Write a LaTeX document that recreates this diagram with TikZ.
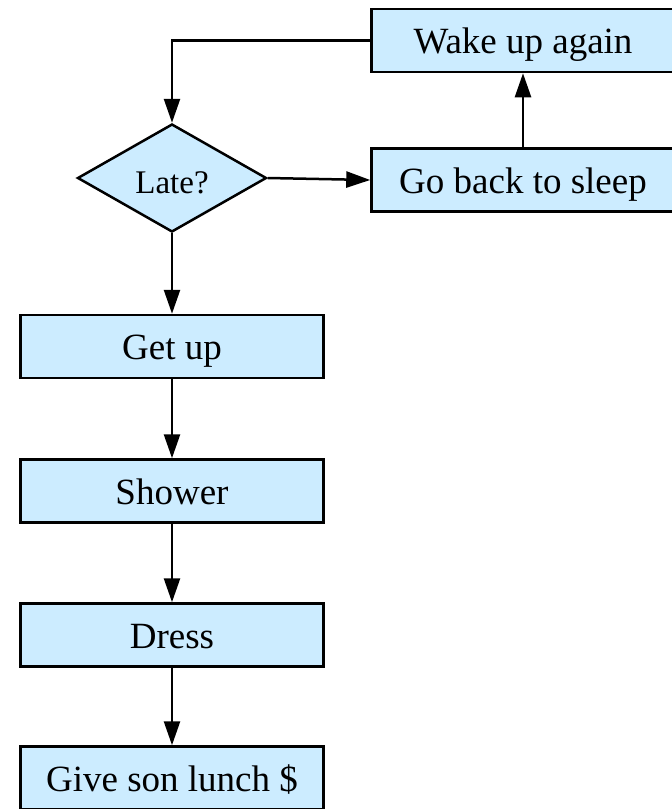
\documentclass[tikz,border=0pt]{standalone}
\usepackage{fontspec}
\setmainfont{Liberation Serif}
\usetikzlibrary{shapes.geometric,arrows.meta}
\definecolor{boxfill}{RGB}{204,236,255}
\begin{document}
\begin{tikzpicture}[x=1pt,y=-1pt,
  every node/.style={font=\fontsize{37}{44}\selectfont},
  stepbox/.style={draw=black,fill=boxfill,line width=2.5pt,rectangle,
    minimum width=303pt,minimum height=63pt,inner sep=0pt,
    text height=30pt,text depth=4pt},
  decision/.style={draw=black,fill=boxfill,line width=2.5pt,diamond,
    minimum width=189pt,minimum height=108pt,inner sep=0pt,
    text height=32pt,text depth=2pt,
    font=\fontsize{33}{40}\selectfont},
  flow/.style={line width=2.5pt,-{Triangle[length=24pt,width=16pt]}}]
\useasboundingbox (0,0) rectangle (672,809);

\node[stepbox] (wake)   at (523,40.5)  {Wake up again};
\node[stepbox] (sleep)  at (523,180)   {Go back to sleep};
\node[decision] (late)  at (172,178)   {Late?};
\node[stepbox] (getup)  at (172,346.5) {Get up};
\node[stepbox] (shower) at (172,491)   {Shower};
\node[stepbox] (dress)  at (172,635)   {Dress};
\node[stepbox] (lunch)  at (172,778)   {Give son lunch \$};

\draw[flow] (wake.west) -| (late.north);
\draw[flow] (late.east) -- (sleep.west);
\draw[flow] (sleep.north) -- (wake.south);
\draw[flow] (late.south) -- (getup.north);
\draw[flow] (getup.south) -- (shower.north);
\draw[flow] (shower.south) -- (dress.north);
\draw[flow] (dress.south) -- (lunch.north);
\end{tikzpicture}
\end{document}
